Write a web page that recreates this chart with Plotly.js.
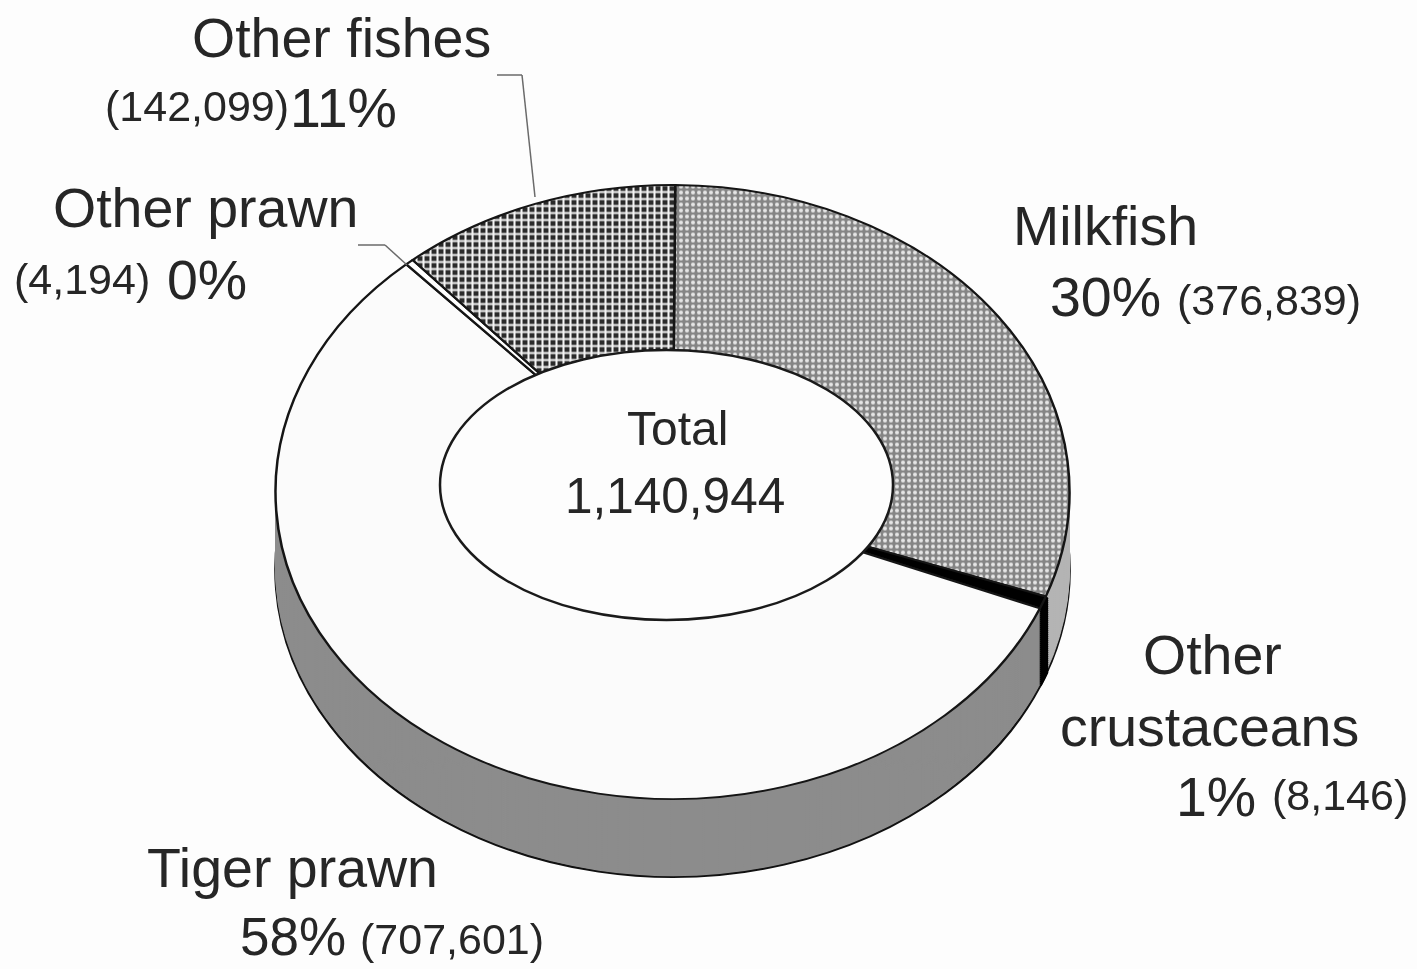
<!DOCTYPE html>
<html>
<head>
<meta charset="utf-8">
<script src="https://cdn.plot.ly/plotly-3.0.1.min.js"></script>
<style>html,body{margin:0;padding:0;background:#fdfdfd;overflow:hidden}#chart{width:1417px;height:969px;filter:blur(0.7px)}</style>
</head>
<body>
<div id="chart"></div>
<script>
// Data
const categories = ["Milkfish", "Other crustaceans", "Tiger prawn", "Other prawn", "Other fishes"];
const values = [376839, 8146, 707601, 4194, 142099];
const percentLabels = ["30%", "1%", "58%", "0%", "11%"];
const valueLabels = ["(376,839)", "(8,146)", "(707,601)", "(4,194)", "(142,099)"];
const totalLines = ["Total", "1,140,944"];

// Styling and layout
const W = 1417, H = 969;
const cx = 672.5, cy = 492, R = 397, ryFace = 307, depth = 78, step = 2;
const yScale = ryFace / R;
const INK = "#262626", PAGE = "#fdfdfd", FONT = "Liberation Sans, Arial, sans-serif";
const px = x => x / W, py = y => 1 - y / H;
const sideColors = ["#b4b4b4", "#000000", "#8c8c8c", "#8c8c8c", "#8c8c8c"];
const sideLineWidths = [1, 5, 1, 1, 1];

const baseTrace = {
  type: "pie", labels: categories, values: values, sort: false, direction: "clockwise",
  rotation: 0.4, textinfo: "none", hoverinfo: "skip", showlegend: false,
  domain: {x: [px(cx - R), px(cx + R)], y: [py(cy + R), py(cy - R)]}
};

const traces = [];
for (let d = depth; d > 0; d -= step) {
  traces.push(Object.assign({}, baseTrace, {
    marker: {colors: sideColors, line: d === depth ? {color: "#111", width: 2.5} : {color: sideColors, width: sideLineWidths}}
  }));
}
traces.push(Object.assign({}, baseTrace, {
  marker: {
    colors: ["#ffffff", "#000000", "#fbfbfb", "#ffffff", "#ffffff"],
    line: {color: "#151515", width: 2.5},
    pattern: {
      shape: [".", "", "", "", "+"],
      size: [6, 8, 8, 8, 7],
      solidity: [0.36, 0.3, 0.3, 0.3, 0.5],
      fgcolor: ["#e6e6e6", "#000", "#000", "#000", "#f4f4f4"],
      bgcolor: ["#858585", "#000", "#fbfbfb", "#fff", "#2a2a2a"],
      fillmode: "replace"
    }
  }
}));

const bigSize = 55.5, smallSize = 43;
function text(str, x, y, size, anchor) {
  return {text: str, xref: "paper", yref: "paper", x: px(x), y: py(y), xanchor: anchor || "left", yanchor: "middle",
          showarrow: false, borderpad: 0, font: {family: FONT, size: size, color: INK}};
}
const annotations = [
  text(categories[4], 191, 38, bigSize),
  text(valueLabels[4], 104, 106, smallSize),
  text(percentLabels[4], 289, 108, bigSize),
  text(categories[3], 52, 208, bigSize),
  text(valueLabels[3], 13, 279, smallSize),
  text(percentLabels[3], 166, 280, bigSize),
  text(categories[0], 1012, 226, bigSize),
  text(percentLabels[0], 1049, 297, bigSize),
  text(valueLabels[0], 1176, 300, smallSize),
  text("Other", 1142, 655, bigSize),
  text("crustaceans", 1059, 727, bigSize),
  text(percentLabels[1], 1175, 797, bigSize),
  text(valueLabels[1], 1271, 795, smallSize),
  text(categories[2], 146, 868, bigSize),
  text(percentLabels[2], 239, 936, 53),
  text(valueLabels[2], 359, 939, smallSize),
  text(totalLines[0], 677, 428, 48, "center"),
  text(totalLines[1], 675, 495, 49.5, "center")
];

function seg(x0, y0, x1, y1) {
  return {type: "line", xref: "paper", yref: "paper", x0: px(x0), y0: py(y0), x1: px(x1), y1: py(y1),
          line: {color: "#6a6a6a", width: 1.5}};
}
const shapes = [
  {type: "circle", xref: "paper", yref: "paper", x0: px(440), x1: px(893), y0: py(620), y1: py(350),
   fillcolor: PAGE, line: {color: "#1a1a1a", width: 2.5}},
  seg(497, 75, 522, 75), seg(522, 75, 535, 197),
  seg(358, 245, 385, 245), seg(385, 245, 407, 265)
];

const layout = {
  width: W, height: H, margin: {l: 0, r: 0, t: 0, b: 0},
  paper_bgcolor: PAGE, plot_bgcolor: PAGE, showlegend: false,
  annotations: annotations, shapes: shapes
};

Plotly.newPlot("chart", traces, layout, {displayModeBar: false, staticPlot: true}).then(gd => {
  const groups = gd.querySelectorAll(".pielayer .trace");
  groups.forEach((g, i) => {
    const d = depth - i * step;
    g.setAttribute("transform", `translate(0,${cy + d}) scale(1,${yScale}) translate(0,${-cy})`);
  });
  // keep the fill textures square after the disc is flattened
  gd.querySelectorAll("pattern").forEach(p => p.setAttribute("patternTransform", `scale(1,${1 / yScale})`));
});
</script>
</body>
</html>
